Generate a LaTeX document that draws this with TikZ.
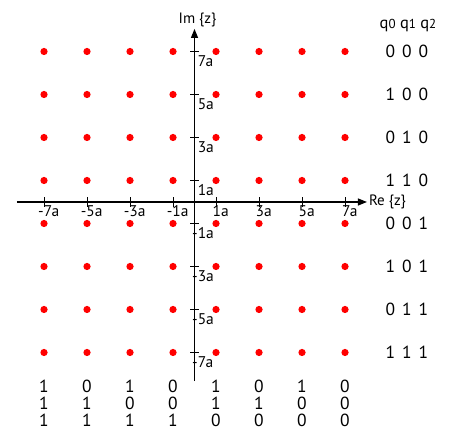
\documentclass[tikz,border=0pt]{standalone}
\usepackage{fontspec}
\setmainfont{PT Sans}
\usetikzlibrary{arrows.meta}
\def\trip#1#2#3{#1\hspace{7pt}#2\hspace{7pt}#3}

\begin{document}
\begin{tikzpicture}[x=21.5pt, y=21.5pt,
    axis/.style={line width=1.2pt, -{Triangle[length=9pt, width=7pt]}},
    tickmark/.style={line width=1pt},
    ticklbl/.style={font=\fontsize{15.5}{15.5}\selectfont, inner sep=0.5pt},
    bitlbl/.style={font=\fontsize{17.5}{17.5}\selectfont, inner sep=0pt},
    axlbl/.style={font=\fontsize{15}{15}\selectfont, inner sep=1.5pt}]
\useasboundingbox (-9.047,-10.977) rectangle (11.93,9.395);
% ---- axes
\coordinate (xl) at (-8.26,0);
\coordinate (xr) at (8.02,0);
\coordinate (yb) at (0,-8.33);
\coordinate (yt) at (0,8.05);
\draw[axis] (xl) -- (xr) node[axlbl, anchor=west] (re) {Re \{z\}};
\draw[axis] (yb) -- (yt) node[axlbl, anchor=south, xshift=3pt] (im) {Im \{z\}};
% ---- ticks and their labels
\foreach \v in {-7,-5,-3,-1,1,3,5,7} {
    \draw[tickmark] (\v,0.22) -- (\v,-0.22);
    \draw[tickmark] (-0.2,\v) -- (0.2,\v);
}
\foreach \v/\t [count=\i] in {-7/-7a,-5/-5a,-3/-3a,-1/-1a,1/1a,3/3a,5/5a,7/7a}
    \node[ticklbl, anchor=north] (xt\i) at (\v+0.22,-0.12) {\t};
\foreach \v/\t [count=\i] in {7/7a,5/5a,3/3a,1/1a,-1/\llap{-}1a,-3/\llap{-}3a,-5/\llap{-}5a,-7/\llap{-}7a}
    \node[ticklbl, anchor=west] (yt\i) at (0.12,\v-0.45) {\t};
% ---- constellation points
\foreach \x in {-7,-5,-3,-1,1,3,5,7}
    \foreach \y in {-7,-5,-3,-1,1,3,5,7}
        \fill[red] (\x,\y) circle (3.6pt);
% ---- labels of the rows (q0 q1 q2)
\node[axlbl, font=\fontsize{16.5}{16.5}\selectfont] (qhead) at (9.93,8.23)
    {q{\fontsize{13}{13}\selectfont 0} q{\fontsize{13}{13}\selectfont 1} q{\fontsize{13}{13}\selectfont 2}};
\foreach \y/\a/\b/\c [count=\i] in {7/0/0/0,5/1/0/0,3/0/1/0,1/1/1/0,-1/0/0/1,-3/1/0/1,-5/0/1/1,-7/1/1/1}
    \node[bitlbl] (row\i) at (9.88,\y) {\trip{\a}{\b}{\c}};
% ---- labels of the columns
\foreach \x/\a/\b/\c [count=\i] in {-7/1/1/1,-5/0/1/1,-3/1/0/1,-1/0/0/1,1/1/1/0,3/0/1/0,5/1/0/0,7/0/0/0} {
    \node[bitlbl] (cola\i) at (\x,-8.56) {\a};
    \node[bitlbl] (colb\i) at (\x,-9.35) {\b};
    \node[bitlbl] (colc\i) at (\x,-10.14) {\c};
}
\end{tikzpicture}
\end{document}
